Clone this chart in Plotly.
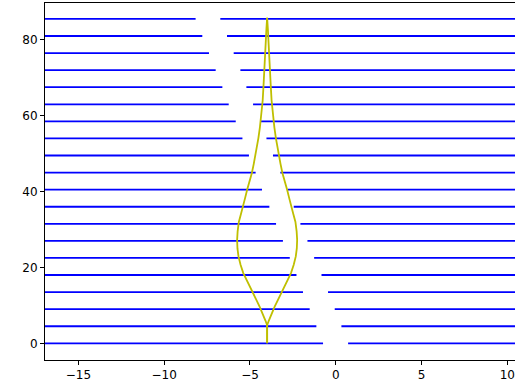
import plotly.graph_objects as go

# Horizontal lines (y positions) and the gap in each line
line_y = [0, 4.5, 9, 13.5, 18, 22.5, 27, 31.5, 36, 40.5, 45, 49.5, 54, 58.5, 63, 67.5, 72, 76.5, 81, 85.5]
gap_left = [-0.74, -1.13, -1.52, -1.91, -2.29, -2.68, -3.08, -3.48, -3.87, -4.30,
            -4.67, -5.06, -5.44, -5.83, -6.24, -6.61, -7.00, -7.39, -7.78, -8.17]
gap_right = [0.72, 0.33, -0.06, -0.45, -0.83, -1.26, -1.65, -2.06, -2.45, -2.80,
             -3.23, -3.66, -4.04, -4.38, -4.82, -5.21, -5.56, -5.95, -6.34, -6.73]

# Yellow violin-like outline: centre and half-width along y
curve_center = -4.0
curve_y = [0, 4.8, 6, 7, 8.5, 9.7, 12, 14.1, 16.3, 18.5, 20.7, 22.9, 25, 27.3, 29.5, 32, 34, 36,
           38.2, 40.4, 42.6, 44.9, 47.3, 49.7, 52, 54.1, 57, 60.2, 64, 68, 72.1, 76, 80, 83, 85.8]
curve_hw = [0, 0, 0.1, 0.21, 0.33, 0.44, 0.68, 0.92, 1.16, 1.39, 1.55, 1.67, 1.73, 1.75, 1.72, 1.65,
            1.53, 1.40, 1.29, 1.17, 1.03, 0.89, 0.78, 0.67, 0.58, 0.51, 0.42, 0.33, 0.26, 0.21, 0.175,
            0.13, 0.08, 0.04, 0]

x_range = [-16.95, 10.45]
y_range = [-4.4, 89.7]

lx, ly = [], []
for y, gl, gr in zip(line_y, gap_left, gap_right):
    lx += [-30, gl, None, gr, 30, None]
    ly += [y, y, None, y, y, None]

left_x = [curve_center - h for h in curve_hw]
right_x = [curve_center + h for h in curve_hw]

fig = go.Figure()
fig.add_trace(go.Scatter(x=lx, y=ly, mode="lines", line=dict(color="#0000ff", width=1.8),
                         hoverinfo="skip", showlegend=False))
fig.add_trace(go.Scatter(x=left_x, y=curve_y, mode="lines",
                         line=dict(color="#bfbf00", width=1.8), showlegend=False))
fig.add_trace(go.Scatter(x=right_x, y=curve_y, mode="lines",
                         line=dict(color="#bfbf00", width=1.8), showlegend=False))

fig.update_layout(
    width=515, height=387,
    margin=dict(l=45, r=0, t=3, b=27),
    paper_bgcolor="white", plot_bgcolor="white",
    font=dict(family="DejaVu Sans", size=12, color="black"),
    showlegend=False,
)
fig.update_xaxes(range=x_range, tickvals=[-15, -10, -5, 0, 5, 10],
                 showgrid=False, zeroline=False, showline=True, linecolor="black",
                 linewidth=1, mirror=True, ticks="outside", ticklen=4, tickcolor="black",
                 tickwidth=1)
fig.update_yaxes(range=y_range, tickvals=[0, 20, 40, 60, 80],
                 showgrid=False, zeroline=False, showline=True, linecolor="black",
                 linewidth=1, mirror=False, ticks="outside", ticklen=4, tickcolor="black",
                 tickwidth=1)

fig.write_html("out.html")
